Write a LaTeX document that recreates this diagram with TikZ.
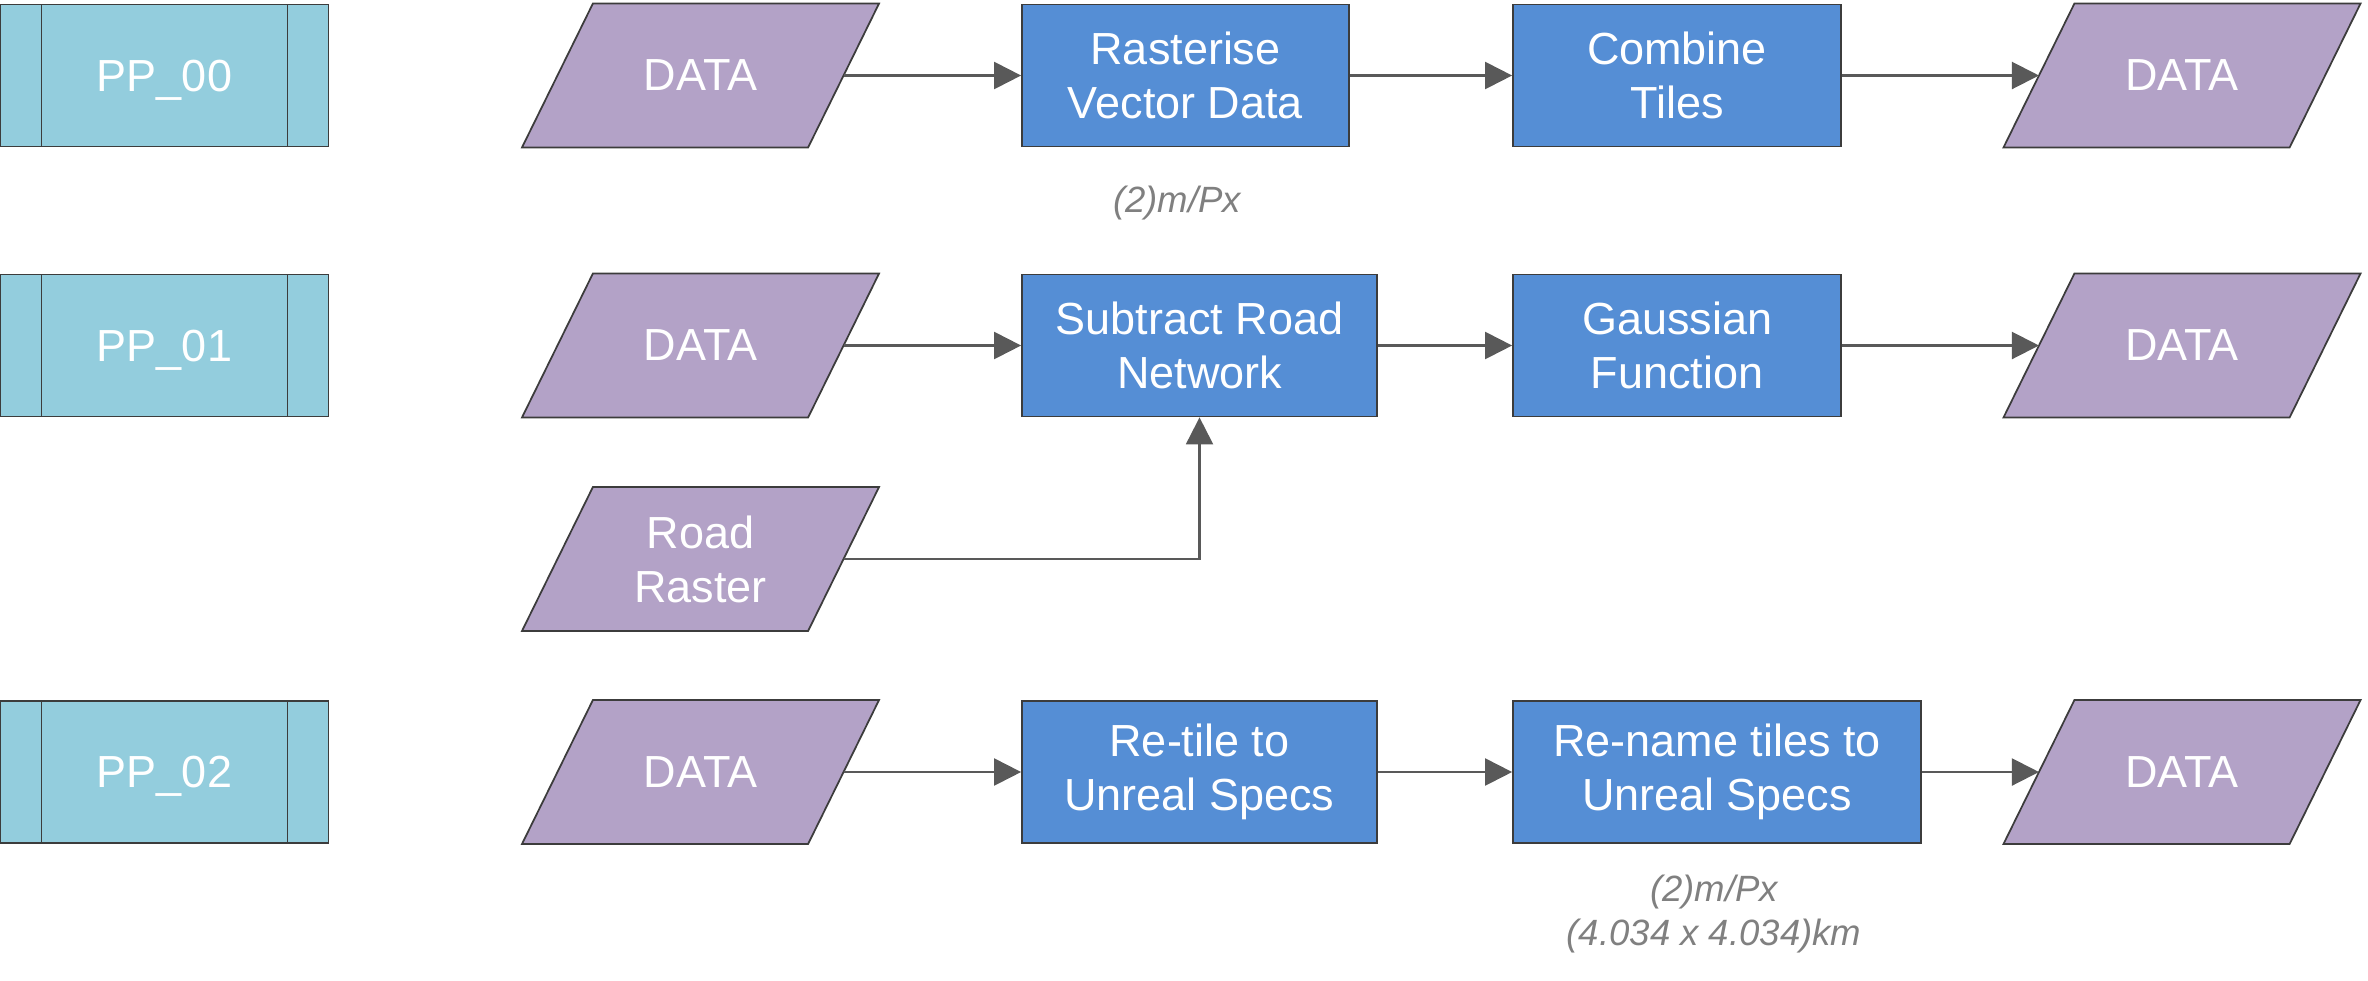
\documentclass[tikz,border=0pt]{standalone}
\usepackage{fontspec}
\setmainfont{Liberation Sans}
\usepackage{xcolor}
\usepackage{tikz}
\usetikzlibrary{shapes,backgrounds}
\usetikzlibrary{arrows,shapes.geometric,fit,positioning,calc}
\usetikzlibrary{arrows.meta}

\definecolor{ppteal}{RGB}{147,205,221}
\definecolor{datapurple}{RGB}{179,162,199}
\definecolor{procblue}{RGB}{85,142,213}
\definecolor{edgegray}{RGB}{60,60,60}
\definecolor{arrowgray}{RGB}{89,89,89}
\definecolor{notegray}{RGB}{128,128,128}

\begin{document}
\begin{tikzpicture}[->,>={Triangle[length=0.27cm,width=0.27cm]},
line width=0.6pt, color=arrowgray,
font=\fontsize{12.8}{15.4}\selectfont]

\tikzstyle{predef}=[rectangle, draw=edgegray, line width=0.5pt, fill=ppteal,
text=white, minimum width=3.28cm, minimum height=1.42cm, inner sep=0pt, text depth=0pt,
path picture={
\draw[-,edgegray,line width=0.5pt] ([xshift=0.41cm]path picture bounding box.north west) -- ([xshift=0.41cm]path picture bounding box.south west);
\draw[-,edgegray,line width=0.5pt] ([xshift=-0.41cm]path picture bounding box.north east) -- ([xshift=-0.41cm]path picture bounding box.south east);}]

\tikzstyle{datanode}=[rectangle, text=white, minimum width=2.84cm,
minimum height=1.42cm, inner sep=0pt, align=center]
\tikzstyle{datashape}=[-, draw=edgegray, line width=0.5pt, fill=datapurple]

\tikzstyle{process}=[rectangle, draw=edgegray, line width=0.5pt, fill=procblue,
text=white, minimum height=1.42cm, inner sep=0pt, align=center]

\tikzstyle{note}=[font=\fontsize{10.4}{12.6}\selectfont\itshape, text=notegray, align=center]

\useasboundingbox (0,0) rectangle (23.68,9.80);

%PP_00
\node[predef] (pp0) at (1.645,9.045) {PP\_00};
\node[datanode] (in0) at (7.005,9.045) {DATA};
\node[process, minimum width=3.27cm] (rast) at (11.855,9.045) {Rasterise\\Vector Data};
\node[process, minimum width=3.28cm] (comb) at (16.77,9.045) {Combine\\Tiles};
\node[datanode] (out0) at (21.82,9.045) {DATA};
\node[note] (res0) at (11.77,7.77) {(2)m/Px};

\draw (in0.east) -- (rast.west);
\draw (rast.east) -- (comb.west);
\draw (comb.east) -- (out0.west);

%PP_01
\node[predef] (pp1) at (1.645,6.345) {PP\_01};
\node[datanode] (in1) at (7.005,6.345) {DATA};
\node[process, minimum width=3.55cm] (sub) at (11.995,6.345) {Subtract Road\\Network};
\node[process, minimum width=3.28cm] (gauss) at (16.77,6.345) {Gaussian\\Function};
\node[datanode] (out1) at (21.82,6.345) {DATA};
\node[datanode] (road) at (7.005,4.21) {Road\\Raster};

\draw (in1.east) -- (sub.west);
\draw (sub.east) -- (gauss.west);
\draw (gauss.east) -- (out1.west);
\draw (road.east) -| (sub.south);

%PP_02
\node[predef] (pp2) at (1.645,2.08) {PP\_02};
\node[datanode] (in2) at (7.005,2.08) {DATA};
\node[process, minimum width=3.55cm] (retile) at (11.995,2.08) {Re-tile to\\Unreal Specs};
\node[process, minimum width=4.08cm] (rename) at (17.17,2.08) {Re-name tiles to\\Unreal Specs};
\node[datanode] (out2) at (21.82,2.08) {DATA};
\node[note] (res2) at (17.14,0.66) {(2)m/Px\\(4.034 x 4.034)km};

\draw (in2.east) -- (retile.west);
\draw (retile.east) -- (rename.west);
\draw (rename.east) -- (out2.west);

%data parallelograms
\begin{scope}[on background layer]
\foreach \d in {in0,out0,in1,out1,road,in2,out2}
\draw[datashape] ([xshift=-0.355cm]\d.south west) -- ([xshift=-0.355cm]\d.south east)
-- ([xshift=0.355cm]\d.north east) -- ([xshift=0.355cm]\d.north west) -- cycle;
\end{scope}

\end{tikzpicture}
\end{document}
